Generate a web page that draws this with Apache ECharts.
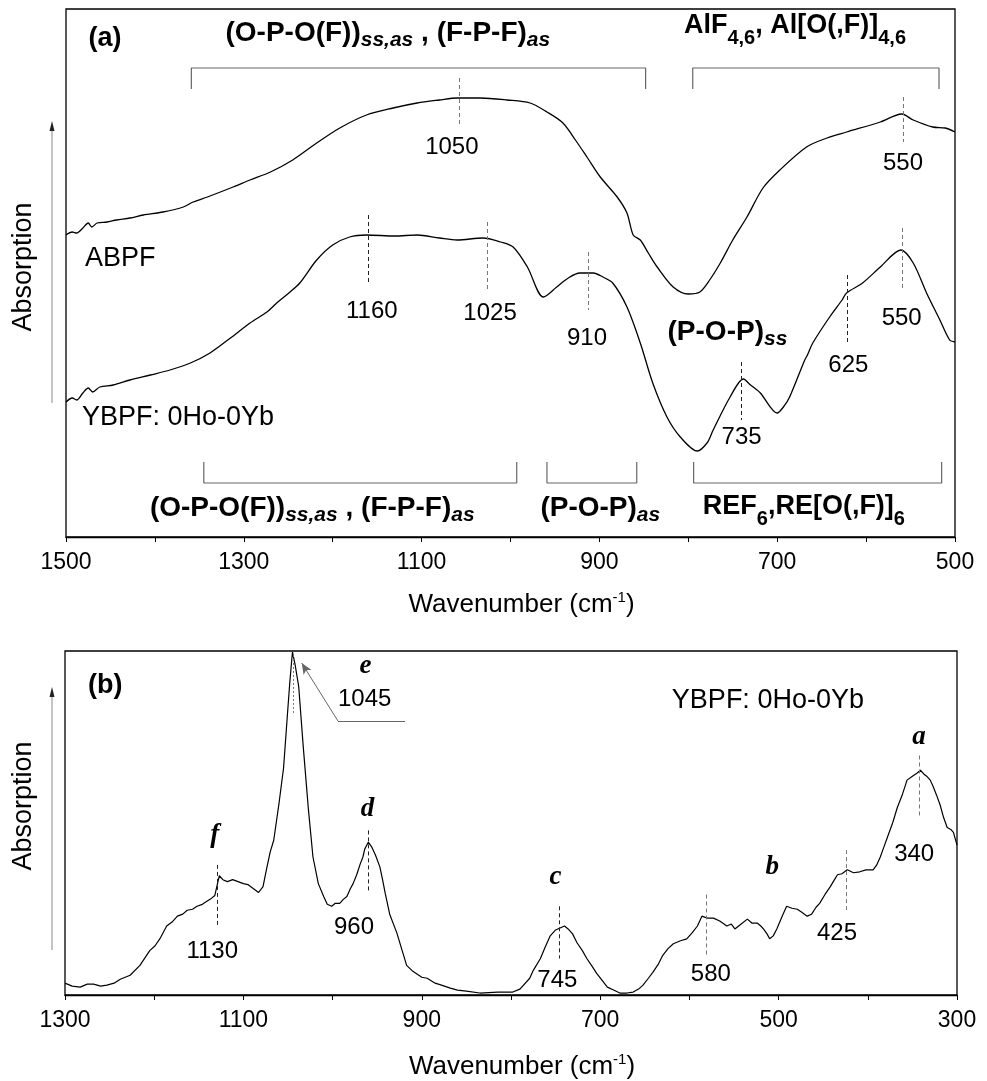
<!DOCTYPE html>
<html>
<head>
<meta charset="UTF-8">
<title></title>
<script src="https://cdn.jsdelivr.net/npm/echarts@6/dist/echarts.min.js" type="text/javascript" charset="utf-8"></script>
</head>
<body style="margin:0;background:#fff;">
<div id="main" style="width:987px;height:1081px;"></div>
<script type="text/javascript">
// (a) IR spectra, absorption in arbitrary units
var abpfWn  = [1500,1493,1488,1481,1475,1471,1465,1454,1443,1428,1413,1391,1368,1357,1341,1312,1293,1270,1245,1218,1192,1162,1132,1105,1080,1060,1034,1004,978,959,941,927,914,899,880,869,862,854,845,835,817,800,787,776,764,750,734,716,697,667,644,622,584,560,547,525,511,500];
var abpfAbs = [302,305,304,309,314,310,314,315,317,319,322,325,330,335,340,350,357,365,377,394,409,422,429,434,437,439,439,437,434,425,414,397,380,360,340,324,302,297,284,270,250,243,245,257,274,297,320,349,367,390,399,405,415,423,417,410,409,405];

var ybpfWn  = [1500,1493,1488,1481,1475,1470,1462,1447,1428,1405,1383,1360,1338,1315,1293,1274,1263,1248,1237,1218,1200,1181,1162,1130,1105,1080,1060,1031,1011,997,981,963,948,935,922,907,896,885,869,854,840,824,809,790,779,772,753,738,730,719,700,693,686,669,666,660,641,627,622,604,584,561,547,532,517,506,500];
var ybpfAbs = [135,139,137,144,149,145,150,152,157,162,167,174,184,199,214,225,234,245,254,277,292,300,302,301,302,299,297,299,295,290,270,240,250,259,264,264,260,254,230,194,154,120,100,86,94,107,140,158,152,144,124,130,140,177,182,194,220,237,244,254,270,287,274,244,217,197,195];

// (b) Raman spectrum, intensity in arbitrary units
var ramanWn  = [1300,1292,1283,1275,1268,1260,1253,1245,1238,1227,1216,1205,1199,1193,1186,1180,1174,1168,1163,1157,1152,1146,1141,1136,1132,1130,1127,1123,1118,1112,1106,1100,1095,1089,1083,1078,1074,1070,1066,1060,1055,1051,1048,1045,1042,1038,1033,1027,1022,1016,1010,1006,1001,997,992,988,984,980,977,973,969,966,964,960,956,952,947,944,941,936,928,922,917,910,905,900,894,885,878,868,860,850,835,815,798,790,779,775,767,762,756,750,745,740,736,731,726,720,715,709,704,698,692,685,678,670,663,657,652,646,641,635,630,624,618,610,603,597,591,586,580,573,566,558,553,549,542,535,530,524,520,517,513,510,506,502,496,491,485,479,474,468,463,458,454,448,442,438,434,429,423,416,409,402,394,390,386,382,378,372,367,361,356,350,345,341,337,334,330,327,323,319,315,311,307,304,300];
var ramanInt = [12,9,8,11,11,9,10,12,16,20,30,45,50,58,70,74,80,82,86,87,90,92,95,98,101,100,121,117,115,117,115,113,112,108,104,110,128,145,157,195,230,280,317,348,335,313,253,187,140,113,100,92,90,93,93,97,100,108,113,122,133,140,148,155,150,142,130,117,103,82,63,45,30,24,21,18,17,12,10,7,5,4,2,3,3,6,17,25,37,48,60,66,68,70,67,62,53,45,37,29,22,15,8,5,2,2,3,6,10,17,23,31,40,47,52,55,57,63,70,80,78,78,75,70,72,67,72,77,73,73,70,67,62,57,60,67,80,90,88,87,84,80,82,89,93,102,110,116,122,123,127,124,125,127,127,132,140,150,160,175,190,204,218,222,225,228,224,222,218,212,203,193,180,170,168,165,152];

// peak markers: [wavenumber, from, to, grey?]
var peaksA = [[1058,459,413,1],[558.5,440,395,1],[1160,322,255,0],[1026,315,247,1],[912,285,227,1],[740,175,117,0],[621.5,262,195,0],[559.6,309,249,1]];
var peaksB = [[1129.6,132,70,0],[1044.4,345,285,2],[960.3,167,105,0],[746.2,90,37,0],[581.4,102,40,1],[424.4,147,83,1],[342.6,243,182,1]];

// assignment brackets: [from, to, line level, end level]
var bracketsA = [[1359,848,469,448],[795,518,469,448],[1345,993,54,75],[959,858,54,75],[794,515,54,75]];

// text labels: [wavenumber, level, text, align]
var labelsA = [
  [1456, 498, '{P|(a)}'],
  [1138, 504, '{B|(O-P-O(F))}{si|ss,as}{B| , (F-P-F)}{si|as}'],
  [680, 511, '{BL|AlF}{sn|4,6}{BL|, Al[O(,F)]}{sn|4,6}'],
  [1066, 390, '{n|1050}'],
  [558.5, 374, '{n|550}'],
  [1478.6, 278, '{s|ABPF}', 'left'],
  [1482, 119, '{s|YBPF: 0Ho-0Yb}', 'left'],
  [1156, 226, '{n|1160}'],
  [1023, 224, '{n|1025}'],
  [914, 199, '{n|910}'],
  [756, 205, '{B|(P-O-P)}{si|ss}'],
  [740, 100, '{n|735}'],
  [620, 172, '{n|625}'],
  [560, 219, '{n|550}'],
  [1223, 29, '{B|(O-P-O(F))}{si|ss,as}{B| , (F-P-F)}{si|as}'],
  [899, 29, '{B|(P-O-P)}{si|as}'],
  [670, 30, '{BL|REF}{sn|6}{BL|,RE[O(,F)]}{sn|6}']
];
var labelsB = [
  [1255, 314, '{P|(b)}'],
  [512, 299, '{s|YBPF: 0Ho-0Yb}'],
  [963, 334, '{g|e}'],
  [964, 300, '{n|1045}'],
  [1132, 162, '{g|f}'],
  [1135, 44, '{n|1130}'],
  [961, 189, '{g|d}'],
  [976, 69, '{n|960}'],
  [750, 120, '{g|c}'],
  [748, 15, '{n|745}'],
  [507, 130, '{g|b}'],
  [576, 21, '{n|580}'],
  [434.5, 63, '{n|425}'],
  [342.6, 262, '{g|a}'],
  [348, 143, '{n|340}']
];

var FONT = 'Liberation Sans, Arial, sans-serif';
var rich = {
  P: {fontSize: 27, fontWeight: 'bold', fontFamily: FONT, color: '#000'},
  B: {fontSize: 28, fontWeight: 'bold', fontFamily: FONT, color: '#000', lineHeight: 36},
  BL: {fontSize: 27, fontWeight: 'bold', fontFamily: FONT, color: '#000', lineHeight: 44},
  si: {fontSize: 21, fontWeight: 'bold', fontStyle: 'italic', fontFamily: FONT, color: '#000', verticalAlign: 'bottom'},
  sn: {fontSize: 20, fontWeight: 'bold', fontFamily: FONT, color: '#000', verticalAlign: 'bottom'},
  n: {fontSize: 24, fontFamily: FONT, color: '#000'},
  s: {fontSize: 27, fontFamily: FONT, color: '#000'},
  g: {fontSize: 27, fontFamily: 'Liberation Serif, Times New Roman, serif', fontWeight: 'bold', fontStyle: 'italic', color: '#000'}
};

function zip(xs, ys) {
  var out = [];
  for (var i = 0; i < xs.length; i++) out.push([xs[i], ys[i]]);
  return out;
}

function peakLines(list) {
  return list.map(function (p) {
    var col = p[3] ? '#777' : '#222';
    var dash = p[3] === 2 ? [2, 2] : [4, 3];
    return [
      {coord: [p[0], p[1]], lineStyle: {color: col, width: 1, type: dash}},
      {coord: [p[0], p[2]]}
    ];
  });
}

function labelSeries(list, idx) {
  return {
    type: 'scatter', xAxisIndex: idx, yAxisIndex: idx,
    symbol: 'circle', symbolSize: 1, silent: true, animation: false, z: 5, clip: false,
    itemStyle: {color: '#000', opacity: 1},
    label: {
      show: true, position: 'inside', color: '#000', opacity: 1,
      textBorderWidth: 0, textBorderColor: 'transparent',
      formatter: function (p) { return p.name; },
      rich: rich
    },
    labelLayout: {hideOverlap: false},
    data: list.map(function (l) {
      var item = {value: [l[0], l[1]], name: l[2], symbolSize: 0};
      if (l[3]) item.label = {align: l[3]};
      return item;
    })
  };
}

function bracketSeries(list, idx) {
  return list.map(function (b) {
    return {
      type: 'line', xAxisIndex: idx, yAxisIndex: idx, silent: true, animation: false,
      showSymbol: false, symbol: 'none',
      lineStyle: {color: '#666', width: 1.2},
      data: [[b[0], b[3]], [b[0], b[2]], [b[1], b[2]], [b[1], b[3]]]
    };
  });
}

function xAxisOf(idx, mn, mx, gap) {
  return {
    gridIndex: idx, type: 'value', inverse: true, min: mn, max: mx, interval: 200,
    axisLine: {lineStyle: {color: '#000', width: 1.3}},
    axisTick: {length: 5, lineStyle: {color: '#000'}},
    minorTick: {show: true, splitNumber: 2, length: 5, lineStyle: {color: '#000'}},
    splitLine: {show: false}, minorSplitLine: {show: false},
    axisLabel: {color: '#000', fontSize: 23, fontFamily: FONT, margin: 14,
      formatter: function (v) { return String(v); }},
    name: '{t|Wavenumber (cm}{u|-1}{t|)}',
    nameLocation: 'middle', nameGap: gap,
    nameTextStyle: {
      padding: [0, 0, 0, 22],
      rich: {
        t: {fontSize: 26, fontFamily: FONT, color: '#000', lineHeight: 30},
        u: {fontSize: 15, fontFamily: FONT, color: '#000', verticalAlign: 'top'}
      }
    }
  };
}

function yAxisOf(idx, mx) {
  return {
    gridIndex: idx, type: 'value', min: 0, max: mx,
    axisLine: {show: false}, axisTick: {show: false}, axisLabel: {show: false},
    splitLine: {show: false}
  };
}

var curveStyle = {color: '#000', width: 1.3};

var chart = echarts.init(document.getElementById('main'));
chart.setOption({
  backgroundColor: '#fff',
  animation: false,
  grid: [
    {left: 66, top: 9, width: 889, height: 528, show: true, borderColor: '#000', borderWidth: 1.3},
    {left: 65, top: 651, width: 892, height: 349, show: true, borderColor: '#000', borderWidth: 1.3}
  ],
  xAxis: [xAxisOf(0, 500, 1500, 53), xAxisOf(1, 300, 1300, 57)],
  yAxis: [yAxisOf(0, 528), yAxisOf(1, 349)],
  series: [
    {
      name: 'ABPF', type: 'line', xAxisIndex: 0, yAxisIndex: 0, smooth: 0.3,
      showSymbol: false, symbol: 'none', lineStyle: curveStyle, data: zip(abpfWn, abpfAbs),
      markLine: {symbol: ['none', 'none'], silent: true, animation: false, label: {show: false},
        data: peakLines(peaksA.slice(0, 2))}
    },
    {
      name: 'YBPF: 0Ho-0Yb', type: 'line', xAxisIndex: 0, yAxisIndex: 0, smooth: 0.3,
      showSymbol: false, symbol: 'none', lineStyle: curveStyle, data: zip(ybpfWn, ybpfAbs),
      markLine: {symbol: ['none', 'none'], silent: true, animation: false, label: {show: false},
        data: peakLines(peaksA.slice(2))}
    },
    {
      name: 'YBPF Raman', type: 'line', xAxisIndex: 1, yAxisIndex: 1,
      showSymbol: false, symbol: 'none', lineStyle: {color: '#000', width: 1.2}, data: zip(ramanWn, ramanInt),
      markLine: {symbol: ['none', 'none'], silent: true, animation: false, label: {show: false},
        data: peakLines(peaksB).concat([
          [{coord: [1034.6, 336.7], symbol: 'arrow', symbolSize: [7, 11], lineStyle: {color: '#666', width: 1, type: 'solid'}},
           {coord: [994, 278], symbol: 'none'}],
          [{coord: [994, 278], lineStyle: {color: '#666', width: 1, type: 'solid'}}, {coord: [918.8, 278]}]
        ])}
    },
    labelSeries(labelsA, 0),
    labelSeries(labelsB, 1)
  ].concat(bracketSeries(bracketsA, 0)),
  graphic: [
    {type: 'text', x: 24, y: 267, rotation: Math.PI / 2,
      style: {text: 'Absorption', fontSize: 27, fontFamily: FONT, fill: '#000', align: 'center', verticalAlign: 'middle'}},
    {type: 'line', shape: {x1: 52, y1: 403, x2: 52, y2: 126}, style: {stroke: '#888', lineWidth: 1}},
    {type: 'polygon', shape: {points: [[52, 121], [49.5, 131], [54.5, 131]]}, style: {fill: '#222'}},
    {type: 'text', x: 24, y: 806, rotation: Math.PI / 2,
      style: {text: 'Absorption', fontSize: 27, fontFamily: FONT, fill: '#000', align: 'center', verticalAlign: 'middle'}},
    {type: 'line', shape: {x1: 52, y1: 950, x2: 52, y2: 692}, style: {stroke: '#888', lineWidth: 1}},
    {type: 'polygon', shape: {points: [[52, 687], [49.5, 697], [54.5, 697]]}, style: {fill: '#222'}}
  ]
});
</script>
</body>
</html>
